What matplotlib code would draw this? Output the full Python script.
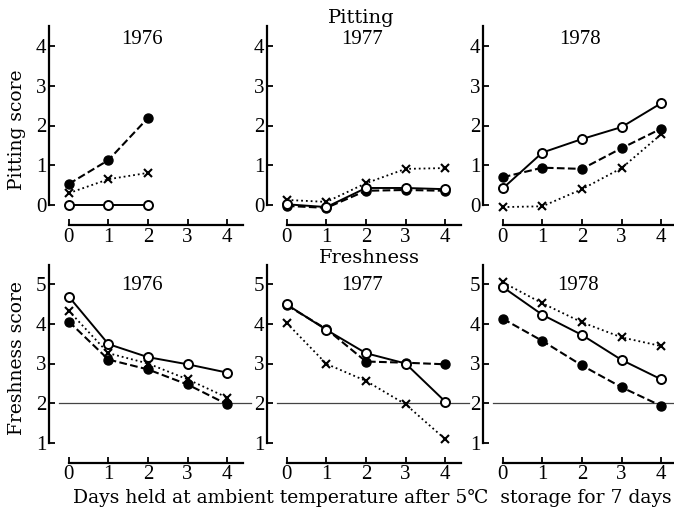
import matplotlib
matplotlib.use("Agg")
import matplotlib.pyplot as plt

plt.rcParams['font.family'] = ['Liberation Serif', 'DejaVu Serif', 'DejaVu Sans']

days = [0, 1, 2, 3, 4]
years = ['1976', '1977', '1978']

# pitting score: open circle (solid), filled circle (dashed), cross (dotted)
pit_open = {'1976': [0, 0, 0],
            '1977': [0.02, -0.05, 0.43, 0.43, 0.40],
            '1978': [0.42, 1.32, 1.66, 1.96, 2.56]}
pit_fill = {'1976': [0.53, 1.13, 2.19],
            '1977': [-0.02, -0.07, 0.36, 0.38, 0.36],
            '1978': [0.70, 0.94, 0.91, 1.43, 1.92]}
pit_cross = {'1976': [0.30, 0.65, 0.81],
             '1977': [0.13, 0.08, 0.55, 0.91, 0.93],
             '1978': [-0.05, -0.03, 0.40, 0.93, 1.78]}

# freshness score
fr_open = {'1976': [4.69, 3.49, 3.16, 2.98, 2.77],
           '1977': [4.49, 3.85, 3.26, 3.00, 2.04],
           '1978': [4.93, 4.23, 3.72, 3.09, 2.60]}
fr_fill = {'1976': [4.06, 3.10, 2.85, 2.47, 1.97],
           '1977': [4.47, 3.87, 3.05, 3.02, 2.98],
           '1978': [4.13, 3.57, 2.95, 2.40, 1.93]}
fr_cross = {'1976': [4.33, 3.26, 3.00, 2.60, 2.14],
            '1977': [4.02, 2.99, 2.56, 1.97, 1.09],
            '1978': [5.05, 4.52, 4.04, 3.66, 3.44]}
fresh_limit = 2

W, H = 674, 512
fig = plt.figure(figsize=(W / 100, H / 100), dpi=100)

lefts = [49, 267, 483]
axw = 194
wide = ['DejaVu Serif', 'DejaVu Sans']


def style(ax, ymin, ymax):
    ax.set_xlim(-0.5, 4.4)
    ax.set_ylim(ymin - 0.5, ymax + 0.5)
    for s in ['top', 'right']:
        ax.spines[s].set_visible(False)
    ax.spines['left'].set_bounds(ymin, ymax + 0.5)
    ax.spines['bottom'].set_bounds(0, 4.4)
    for s in ['left', 'bottom']:
        ax.spines[s].set_linewidth(1.6)
    ax.set_xticks(days)
    ax.set_yticks(range(ymin, ymax + 1))
    ax.tick_params(direction='in', length=4, width=1.3, labelsize=15, pad=2)


def draw(ax, xo, xf, xx):
    n = len(xo)
    ax.plot(days[:n], xx, ':', color='black', lw=1.3, marker='x', ms=5.5, mew=1.5, clip_on=False)
    ax.plot(days[:n], xf, '--', color='black', lw=1.5, marker='o', ms=6.5,
            mfc='black', mec='black', clip_on=False)
    ax.plot(days[:n], xo, '-', color='black', lw=1.4, marker='o', ms=6.5,
            mfc='white', mec='black', mew=1.4, clip_on=False)


for i, yr in enumerate(years):
    ax = fig.add_axes([lefts[i] / W, 1 - 225 / H, axw / W, 199 / H])
    style(ax, 0, 4)
    draw(ax, pit_open[yr], pit_fill[yr], pit_cross[yr])

    ax2 = fig.add_axes([lefts[i] / W, 1 - 462.5 / H, axw / W, 198 / H])
    style(ax2, 1, 5)
    ax2.axhline(fresh_limit, xmin=0.05, xmax=1.04, color='#444444', lw=0.9, clip_on=False)
    draw(ax2, fr_open[yr], fr_fill[yr], fr_cross[yr])

# titles
ty_top = [(142, 40), (362, 40), (580, 40)]
ty_bot = [(142, 285), (362, 285), (578, 285)]
for yr, (x, y) in zip(years, ty_top):
    fig.text(x / W, 1 - y / H, yr, ha='center', va='center', fontsize=15)
for yr, (x, y) in zip(years, ty_bot):
    fig.text(x / W, 1 - y / H, yr, ha='center', va='center', fontsize=15)
fig.text(361 / W, 1 - 18 / H, 'Pitting', ha='center', va='center', fontsize=14, family=wide)
fig.text(369 / W, 1 - 258 / H, 'Freshness', ha='center', va='center', fontsize=14, family=wide)

fig.text(17 / W, 1 - 130 / H, 'Pitting score', rotation=90, ha='center', va='center',
         fontsize=13.5, family=wide)
fig.text(17 / W, 1 - 358 / H, 'Freshness score', rotation=90, ha='center', va='center',
         fontsize=13.5, family=wide)
fig.text(372 / W, 1 - 498 / H, 'Days held at ambient temperature after 5\u2103  storage for 7 days',
         ha='center', va='center', fontsize=13.5, family=wide)

fig.savefig('out.png', dpi=100)
